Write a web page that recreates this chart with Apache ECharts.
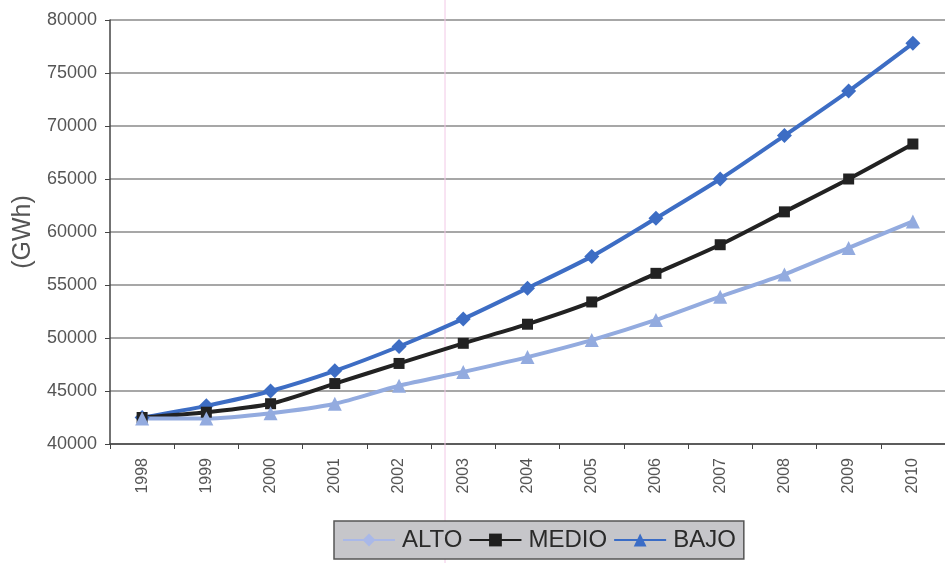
<!DOCTYPE html>
<html>
<head>
<meta charset="utf-8">
<script src="https://cdn.jsdelivr.net/npm/echarts@6/dist/echarts.min.js"></script>
<style>
  html, body { margin: 0; padding: 0; background: #fff; }
  #chart { width: 945px; height: 563px; }
</style>
</head>
<body>
<div id="chart"></div>
<script>
// Electricity demand projection by scenario, 1998-2010 (GWh)
const years = ['1998','1999','2000','2001','2002','2003','2004','2005','2006','2007','2008','2009','2010'];
const alto  = [42500, 43600, 45000, 46900, 49200, 51800, 54700, 57700, 61300, 65000, 69100, 73300, 77800];
const medio = [42500, 43000, 43800, 45700, 47600, 49500, 51300, 53400, 56100, 58800, 61900, 65000, 68300];
const bajo  = [42400, 42400, 42900, 43800, 45500, 46800, 48200, 49800, 51700, 53900, 56000, 58500, 61000];
const yTicks = { min: 40000, max: 80000, step: 5000 };

const chart = echarts.init(document.getElementById('chart'), null, { renderer: 'canvas' });

const axisGray = '#555';
const gridGray = '#8a8a8a';
const font = 'Liberation Sans, Arial, sans-serif';

function lineSeries(name, data, color, symbol, size) {
  return {
    name: name,
    type: 'line',
    data: data,
    smooth: 0.25,
    symbol: symbol,
    symbolSize: size,
    showSymbol: true,
    lineStyle: { color: color, width: 4 },
    itemStyle: { color: color },
    emphasis: { disabled: true },
    z: 3
  };
}

chart.setOption({
  animation: false,
  backgroundColor: '#ffffff',
  grid: { left: 110, top: 20, right: -11, bottom: 119, containLabel: false },
  xAxis: {
    type: 'category',
    data: years,
    boundaryGap: true,
    axisLine: { show: true, lineStyle: { color: '#444', width: 1.5 } },
    axisTick: { show: true, alignWithLabel: false, length: 5, lineStyle: { color: '#444' } },
    axisLabel: {
      rotate: 90,
      margin: 14,
      fontFamily: font,
      fontSize: 16,
      color: axisGray
    },
    splitLine: { show: false }
  },
  yAxis: {
    type: 'value',
    min: yTicks.min,
    max: yTicks.max,
    interval: yTicks.step,
    name: '(GWh)',
    nameLocation: 'middle',
    nameGap: 74,
    nameRotate: 90,
    nameTextStyle: { fontFamily: font, fontSize: 25, color: axisGray },
    axisLine: { show: true, lineStyle: { color: '#444', width: 1.5 } },
    axisTick: { show: true, length: 5, lineStyle: { color: '#444' } },
    axisLabel: {
      margin: 13,
      fontFamily: font,
      fontSize: 18,
      color: axisGray,
      formatter: function (v) { return String(v); }
    },
    splitLine: { show: true, lineStyle: { color: gridGray, width: 1.5 } }
  },
  legend: {
    left: 334,
    top: 521,
    orient: 'horizontal',
    padding: [7, 8, 7, 8],
    itemGap: 6,
    itemWidth: 52,
    itemHeight: 16,
    backgroundColor: '#c6c6ca',
    borderColor: '#555',
    borderWidth: 1.5,
    borderRadius: 0,
    textStyle: { fontFamily: font, fontSize: 24, color: '#2a2a2a', padding: [0, 0, 0, 2] },
    data: [
      { name: 'ALTO',  itemStyle: { color: '#a9b8e8' }, lineStyle: { color: '#a9b8e8', width: 2 } },
      { name: 'MEDIO', itemStyle: { color: '#1e1e1e' }, lineStyle: { color: '#1e1e1e', width: 2 } },
      { name: 'BAJO',  itemStyle: { color: '#3a6cc6' }, lineStyle: { color: '#3a6cc6', width: 2 } }
    ]
  },
  series: [
    lineSeries('ALTO',  alto,  '#3d6dc4', 'diamond',  15),
    lineSeries('MEDIO', medio, '#222222', 'rect',     11),
    lineSeries('BAJO',  bajo,  '#93abdf', 'triangle', 14)
  ],
  graphic: [
    {
      type: 'line',
      silent: true,
      z: 1,
      shape: { x1: 445, y1: 0, x2: 445, y2: 563 },
      style: { stroke: '#f2c8e6', lineWidth: 1 }
    }
  ]
});
</script>
</body>
</html>
